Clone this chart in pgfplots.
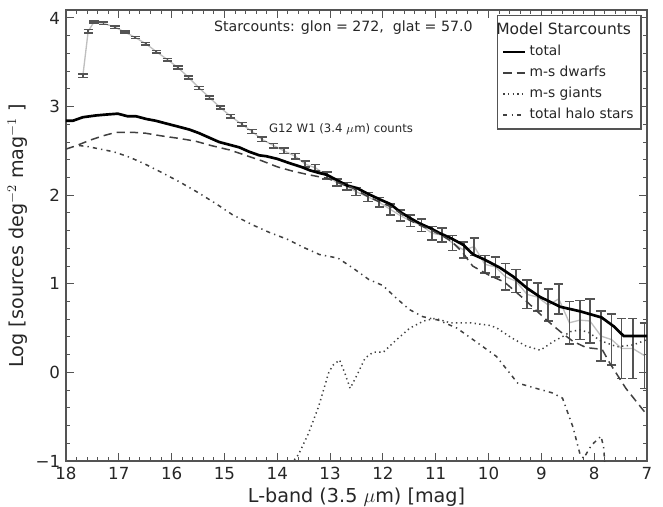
\documentclass[border=0pt]{standalone}
\usepackage{pgfplots}
\pgfplotsset{compat=1.18}
\usepackage{fontspec}
\setmainfont{DejaVu Sans}
\usetikzlibrary{calc}
\definecolor{axgray}{gray}{0.33}
\definecolor{g12line}{gray}{0.75}
\definecolor{errgray}{gray}{0.33}
\definecolor{dgray}{gray}{0.25}

\pgfplotstableread{
x y e
17.68 3.35 0.02
17.58 3.85 0.02
17.47 3.955 0.012
17.29 3.94 0.012
17.07 3.895 0.012
16.88 3.84 0.012
16.69 3.78 0.012
16.49 3.71 0.012
16.29 3.62 0.013
16.08 3.53 0.013
15.88 3.44 0.015
15.68 3.33 0.015
15.48 3.21 0.016
15.28 3.10 0.018
15.08 2.99 0.02
14.88 2.89 0.02
14.67 2.80 0.02
14.48 2.72 0.022
14.29 2.63 0.025
14.07 2.56 0.025
13.87 2.50 0.03
13.66 2.44 0.03
13.47 2.35 0.035
13.28 2.31 0.035
13.06 2.22 0.04
12.87 2.14 0.04
12.68 2.10 0.045
12.51 2.04 0.045
12.28 1.98 0.05
12.07 1.92 0.055
11.86 1.84 0.06
11.67 1.77 0.065
11.48 1.71 0.065
11.27 1.66 0.07
11.07 1.57 0.075
10.88 1.55 0.08
10.68 1.46 0.085
10.47 1.38 0.09
10.27 1.42 0.1
10.07 1.22 0.1
9.87 1.19 0.11
9.68 1.08 0.15
9.48 1.03 0.13
9.27 0.88 0.16
9.07 0.85 0.16
8.87 0.76 0.18
8.67 0.83 0.17
8.47 0.56 0.24
8.27 0.59 0.22
8.08 0.58 0.25
7.87 0.41 0.28
7.67 0.37 0.29
7.48 0.27 0.34
7.27 0.27 0.34
7.05 0.19 0.37
}\gtwelve

\pgfplotstableread{
x y
18.0 2.84
17.87 2.84
17.68 2.88
17.43 2.90
17.24 2.91
17.02 2.92
16.83 2.89
16.67 2.89
16.48 2.86
16.30 2.84
16.11 2.81
15.85 2.77
15.66 2.74
15.48 2.70
15.29 2.65
15.10 2.60
14.91 2.57
14.72 2.54
14.53 2.49
14.34 2.45
14.21 2.44
14.0 2.41
13.76 2.36
13.55 2.32
13.38 2.28
13.2 2.25
13.06 2.23
12.87 2.17
12.68 2.11
12.49 2.08
12.30 2.02
12.05 1.95
11.86 1.90
11.67 1.81
11.48 1.74
11.30 1.68
11.11 1.63
10.92 1.57
10.73 1.52
10.48 1.44
10.29 1.33
10.10 1.28
9.97 1.24
9.78 1.18
9.53 1.08
9.27 0.95
9.02 0.85
8.64 0.74
8.27 0.69
7.86 0.62
7.63 0.52
7.44 0.41
7.00 0.41
}\total

\pgfplotstableread{
x y
18.0 2.52
17.8 2.56
17.55 2.62
17.3 2.67
17.05 2.71
16.75 2.71
16.5 2.70
16.2 2.67
15.85 2.64
15.55 2.61
15.25 2.56
14.9 2.51
14.6 2.45
14.3 2.39
14.0 2.32
13.7 2.27
13.4 2.23
13.05 2.19
12.8 2.13
12.6 2.09
12.3 1.99
12.05 1.92
11.85 1.87
11.65 1.79
11.5 1.72
11.3 1.66
11.1 1.61
10.9 1.55
10.7 1.48
10.5 1.36
10.3 1.20
10.0 1.10
9.7 1.02
9.35 0.84
8.9 0.59
8.6 0.44
8.4 0.35
8.15 0.28
7.85 0.26
7.7 0.10
7.4 -0.18
7.0 -0.48
}\dwarfs

\pgfplotstableread{
x y
13.9 -1.15
13.6 -0.93
13.41 -0.69
13.22 -0.39
13.03 -0.01
12.95 0.08
12.82 0.14
12.72 -0.01
12.62 -0.18
12.49 -0.03
12.34 0.16
12.18 0.23
11.99 0.23
11.74 0.37
11.49 0.50
11.23 0.58
11.01 0.61
10.73 0.56
10.35 0.56
9.97 0.53
9.84 0.50
9.59 0.40
9.3 0.30
9.02 0.25
8.77 0.35
8.58 0.41
8.45 0.46
8.27 0.48
8.1 0.45
7.89 0.36
7.57 0.29
7.26 0.31
7.0 0.37
}\giants

\pgfplotstableread{
x y
17.75 2.56
17.6 2.55
17.35 2.52
17.1 2.49
16.8 2.43
16.5 2.35
16.2 2.26
15.85 2.15
15.5 2.03
15.15 1.90
14.85 1.78
14.45 1.66
14.15 1.58
13.8 1.50
13.5 1.41
13.2 1.33
12.85 1.29
12.55 1.17
12.27 1.05
12.0 0.98
11.75 0.84
11.5 0.71
11.25 0.63
10.95 0.59
10.6 0.50
10.2 0.33
9.85 0.18
9.45 -0.12
9.1 -0.18
8.8 -0.23
8.6 -0.29
8.4 -0.62
8.27 -0.92
8.2 -0.97
8.05 -0.82
7.87 -0.72
7.82 -0.85
7.79 -1.1
}\halo

\begin{document}
\begin{tikzpicture}
\begin{axis}[
  scale only axis,
  width=348.6pt, height=270.6pt,
  xmin=7, xmax=18, x dir=reverse,
  ymin=-1, ymax=4.09,
  xtick={7,8,...,18},
  ytick={-1,0,1,2,3,4},
  yticklabels={−1,0,1,2,3,4},
  minor x tick num=4, minor y tick num=4,
  tick align=inside,
  major tick length=5pt, minor tick length=2.5pt,
  tick style={axgray, line width=0.6pt},
  axis line style={axgray, line width=0.9pt},
  /pgf/number format/assume math mode=true,
  ticklabel style={font=\fontsize{10}{12}\selectfont, text=black!85},
  xlabel={L-band (3.5 $\mu$m) [mag]},
  ylabel={Log [sources deg$^{-2}$ mag$^{-1}$ ]},
  label style={font=\fontsize{11.5}{13}\selectfont, text=black!85},
  xlabel style={yshift=2pt},
  ylabel style={yshift=-2pt},
  legend style={at={(0.991,0.989)}, anchor=north east, draw=axgray, line width=0.8pt,
    font=\fontsize{8.3}{10}\selectfont, text=black!85, inner sep=2.5pt, row sep=0.8pt},
  legend cell align=left,
  legend image code/.code={\draw[#1] (0pt,0pt) -- (13pt,0pt);},
]
\addplot[g12line, line width=0.8pt, forget plot,
  error bars/.cd, y dir=both, y explicit,
  error bar style={errgray, line width=1pt},
  error mark options={errgray, rotate=90, mark size=2.8pt, line width=1pt}]
  table[x=x, y=y, y error=e] {\gtwelve};
\addlegendimage{empty legend}
\addlegendentry{\hspace{-20pt}\fontsize{9.3}{11}\selectfont Model Starcounts}
\addplot[black, line width=1.6pt] table[x=x,y=y] {\total};
\addlegendentry{total}
\addplot[dgray, line width=0.9pt, dash pattern=on 5pt off 3pt] table[x=x,y=y] {\dwarfs};
\addlegendentry{m-s dwarfs}
\addplot[dgray, line width=0.9pt, dash pattern=on 0.8pt off 2pt] table[x=x,y=y] {\giants};
\addlegendentry{m-s giants}
\addplot[dgray, line width=0.9pt, dash pattern=on 2.5pt off 2.5pt on 0.8pt off 2.5pt] table[x=x,y=y] {\halo};
\addlegendentry{total halo stars}
\node[font=\fontsize{8.5}{10}\selectfont, text=black!85] at (axis cs:12.75,3.89) {Starcounts: glon = 272,\ \ glat = 57.0};
\node[font=\fontsize{7}{8}\selectfont, text=black!85, anchor=west, inner sep=0pt] at (axis cs:14.16,2.75) {G12 W1 (3.4 $\mu$m) counts};
\end{axis}
\pgfresetboundingbox
\path ($(current axis.south west)+(-39.6pt,-27pt)$) rectangle ($(current axis.north east)+(9.6pt,6pt)$);
\end{tikzpicture}
\end{document}
